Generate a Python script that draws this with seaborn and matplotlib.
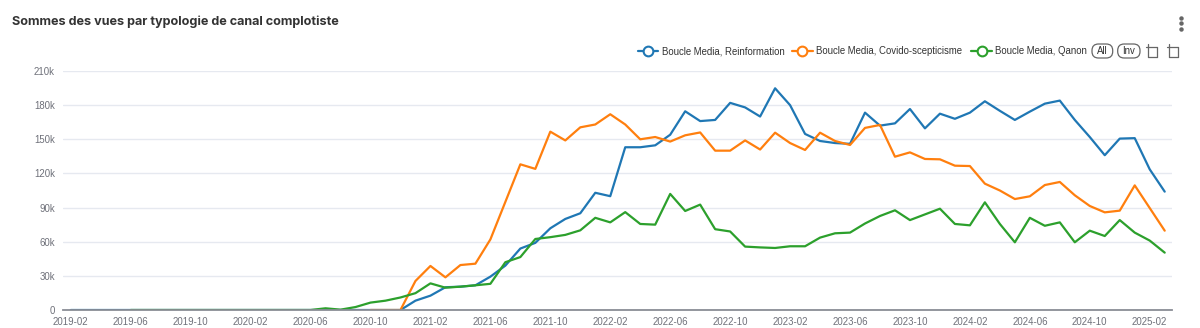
import numpy as np
import pandas as pd
import matplotlib
matplotlib.use("Agg")
import matplotlib.pyplot as plt
import seaborn as sns
from matplotlib.lines import Line2D
from matplotlib.patches import FancyBboxPatch
from matplotlib.transforms import IdentityTransform
from matplotlib.ticker import FuncFormatter, FixedLocator

# ---------------- data ----------------
months = pd.period_range("2019-02", "2025-03", freq="M").strftime("%Y-%m").tolist()

series_names = ["Boucle Media, Reinformation",
                "Boucle Media, Covido-scepticisme",
                "Boucle Media, Qanon"]

# values in thousands of views
reinformation_k = [0] * 23 + [
    8.2, 12.6, 20, 20.5, 21.7, 29.3, 39, 54, 59, 71.8,
    80, 85, 103, 100, 143, 143, 144.7, 154, 174.6, 166,
    167, 182, 178, 170, 194.8, 180, 154.7, 148.5, 146.7, 146,
    173.4, 162, 164, 176.6, 159.6, 172.5, 168, 173.4, 183.4, 175,
    167, 174.3, 181.3, 184, 167, 152, 136, 150.6, 151, 123.6,
    104]

covido_k = [None] * 20 + [
    0, 0, 0, 25.5, 38.7, 28.7, 39.5, 40.7, 62, 95,
    128, 124, 156.7, 149, 160.5, 163, 172, 163, 150, 152,
    148, 153.5, 156, 140, 140, 149, 141, 155.8, 146.7, 140.6,
    155.8, 148.5, 145, 160, 162.6, 134.7, 138.5, 132.7, 132.4, 126.8,
    126.5, 111, 105, 97.5, 99.9, 109.8, 112.5, 100.8, 91.4, 85.8,
    87.3, 109.5, 89.6, 69.7]

qanon_k = [None] * 4 + [0] * 13 + [
    1.5, 0.3, 2.6, 6.5, 8.2, 11, 14.8, 23.4, 19.6, 20.5,
    21.7, 23, 42, 46.5, 62.4, 64, 66, 70, 81, 77,
    86, 75.6, 75, 102, 87, 92.6, 71, 69, 55.7, 55,
    54.5, 56, 56, 63.6, 67.4, 68, 76, 82.6, 87.6, 79,
    84, 89, 75.6, 74.4, 94.6, 75.6, 59.5, 81, 74, 77,
    59.5, 69.7, 65, 79, 68, 61, 50.4]

y_ticks_k = [0, 30, 60, 90, 120, 150, 180, 210]

colors = ["#1f77b4", "#ff7f0e", "#2ca02c"]

rows = []
for name, vals in zip(series_names, [reinformation_k, covido_k, qanon_k]):
    for i, (m, v) in enumerate(zip(months, vals)):
        if v is not None:
            rows.append({"idx": i, "month": m, "series": name, "views": v * 1000})
df = pd.DataFrame(rows)

# ---------------- figure ----------------
W, H = 1200, 328
sns.set_theme(style="white")
plt.rcParams["font.family"] = ["Liberation Sans", "DejaVu Sans"]

fig = plt.figure(figsize=(W / 100, H / 100), dpi=100)
fig.patch.set_facecolor("white")


def px(x, y):
    return x / W, 1 - y / H


left, right, top, bottom = 63.3, 1172.2, 71, 310
ax = fig.add_axes([left / W, 1 - bottom / H, (right - left) / W, (bottom - top) / H])

sns.lineplot(data=df, x="idx", y="views", hue="series", hue_order=series_names,
             palette=colors, linewidth=1.6, ax=ax, legend=False)

n = len(months)
ax.set_xlim(-0.5, n - 0.5)
ax.set_ylim(0, 210000)

ax.yaxis.set_major_locator(FixedLocator([v * 1000 for v in y_ticks_k]))
ax.yaxis.set_major_formatter(FuncFormatter(lambda v, p: "0" if v == 0 else f"{int(v/1000)}k"))
label_idx = list(range(0, n, 4))
ax.set_xticks(label_idx)
ax.set_xticklabels([months[i] for i in label_idx])
ax.set_xticks([i - 0.5 for i in label_idx] + [n - 0.5], minor=True)

ax.tick_params(axis="x", which="major", length=0, pad=5, labelsize=6.9, labelcolor="#6e7079")
ax.tick_params(axis="x", which="minor", length=4, width=1, color="#8a8d95", direction="out")
ax.tick_params(axis="y", which="major", length=0, pad=6, labelsize=6.9, labelcolor="#6e7079")

ax.grid(axis="y", color="#e6e9f0", linewidth=1)
ax.grid(axis="x", visible=False)
for s in ["left", "right", "top"]:
    ax.spines[s].set_visible(False)
ax.spines["bottom"].set_color("#8a8d95")
ax.spines["bottom"].set_linewidth(1.3)
ax.spines["bottom"].set_zorder(5)
ax.set_xlabel("")
ax.set_ylabel("")

# ---------------- title ----------------
fig.text(*px(12, 22), "Sommes des vues par typologie de canal complotiste",
         family=["Inter", "DejaVu Sans"], fontweight="bold", fontsize=9.1,
         color="#333333", ha="left", va="center")

# kebab menu
for yy in (17.5, 23, 28.5):
    fig.add_artist(Line2D([px(1181, yy)[0]], [px(1181, yy)[1]], marker="o",
                          markersize=2.2, color="#666666", linestyle="none"))

# ---------------- legend ----------------
ly = 51
legend_items = [(637.7, 657.7, 661.5), (792, 812.7, 816.5), (971, 992, 995.4)]
for (x0, x1, xt), name, c in zip(legend_items, series_names, colors):
    xa, ya = px(x0, ly)
    xb, _ = px(x1, ly)
    fig.add_artist(Line2D([xa, xb], [ya, ya], color=c, linewidth=1.6))
    xm, _ = px((x0 + x1) / 2, ly)
    fig.add_artist(Line2D([xm], [ya], marker="o", markersize=7, markerfacecolor="white",
                          markeredgecolor=c, markeredgewidth=1.5, linestyle="none"))
    fig.text(*px(xt, ly), name, fontsize=6.9, color="#333333", ha="left", va="center")

# All / Inv buttons (pill shapes, in pixel units)
for x0, x1, lab in [(1092, 1112.7, "All"), (1117.7, 1140, "Inv")]:
    bh = 14
    fig.add_artist(FancyBboxPatch((x0, H - ly - bh / 2), x1 - x0, bh,
                                  boxstyle="round,pad=0,rounding_size=6.5",
                                  transform=IdentityTransform(), facecolor="white",
                                  edgecolor="#666666", linewidth=0.9))
    fig.text(*px((x0 + x1) / 2, ly), lab, fontsize=6.9, color="#333333",
             ha="center", va="center")


# toolbox icons (zoom / restore style)
def icon(x0):
    pts = [
        ([x0 + 2, x0 + 11], [ly - 4, ly - 4]),
        ([x0 + 11, x0 + 11], [ly - 4, ly + 6]),
        ([x0 + 2, x0 + 11], [ly + 6, ly + 6]),
        ([x0 + 2, x0 + 2], [ly - 7, ly + 6]),
        ([x0, x0 + 2], [ly - 4, ly - 4]),
    ]
    for xs, ys in pts:
        fx = [x / W for x in xs]
        fy = [1 - y / H for y in ys]
        fig.add_artist(Line2D(fx, fy, color="#666666", linewidth=0.9))


icon(1146)
icon(1166.7)

fig.savefig("out.png", dpi=100, facecolor="white")
